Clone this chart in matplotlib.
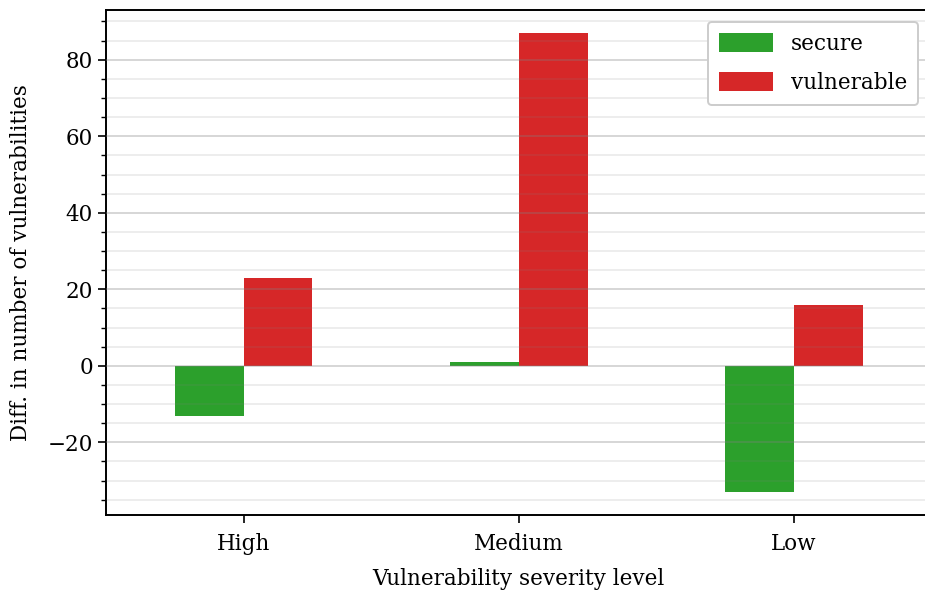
import numpy as np
import matplotlib
matplotlib.use("Agg")
import matplotlib.pyplot as plt
from matplotlib.ticker import MultipleLocator

# data
severity_levels = ["High", "Medium", "Low"]
secure_diff = [-13, 1, -33]
vulnerable_diff = [23, 87, 16]

plt.rcParams['font.family'] = ['DejaVu Serif']

fig = plt.figure(figsize=(9.25, 5.96), dpi=100)
ax = fig.add_axes([0.1146, 0.1359, 0.8924, 0.8473])

x = np.arange(len(severity_levels))
width = 0.25
ax.bar(x - width / 2, secure_diff, width, color="#2ca02c", label="secure", zorder=1)
ax.bar(x + width / 2, vulnerable_diff, width, color="#d62728", label="vulnerable", zorder=1)

ax.set_xlim(-0.5, 2.5)
ax.set_xticks(x)
ax.set_xticklabels(severity_levels)

ax.yaxis.set_major_locator(MultipleLocator(20))
ax.yaxis.set_minor_locator(MultipleLocator(5))
ax.grid(axis="y", which="major", color="#808080", alpha=0.32, linewidth=1.4, zorder=3)
ax.grid(axis="y", which="minor", color="#808080", alpha=0.14, linewidth=1.4, zorder=3)
ax.set_axisbelow(False)

ax.tick_params(axis="both", which="major", labelsize=15.5, length=6, width=1.2)
ax.tick_params(axis="x", which="major", pad=7)
ax.tick_params(axis="y", which="minor", length=3.5, width=1.0)
for s in ax.spines.values():
    s.set_linewidth(1.4)

ax.set_xlabel("Vulnerability severity level", fontsize=15.5, labelpad=9)
ax.set_ylabel("Diff. in number of vulnerabilities", fontsize=15.5, labelpad=11)

leg = ax.legend(loc="upper right", bbox_to_anchor=(0.9836, 0.976), borderaxespad=0,
                fontsize=15.5, handlelength=2.5, handleheight=0.95, handletextpad=0.85,
                labelspacing=0.8, framealpha=1.0, borderpad=0.5)
leg.get_frame().set_edgecolor("#cccccc")
leg.get_frame().set_linewidth(1.4)

fig.savefig("out.png", dpi=100)
